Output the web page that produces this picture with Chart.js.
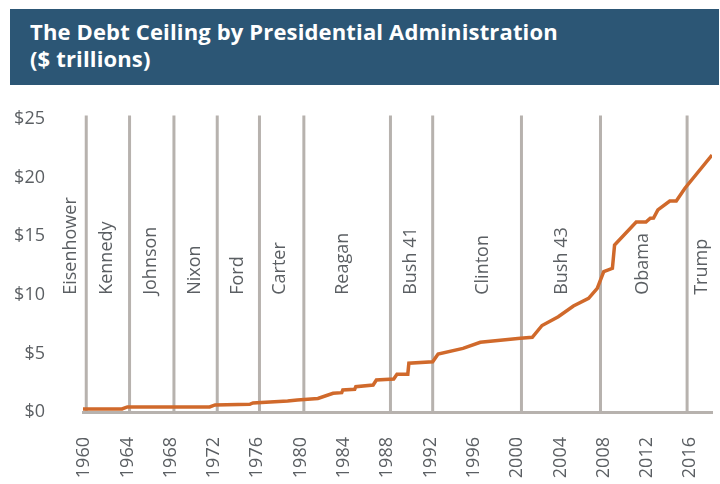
<!DOCTYPE html>
<html>
<head>
<meta charset="utf-8">
<title>Debt Ceiling</title>
<script src="https://cdn.jsdelivr.net/npm/chart.js@4.4.1/dist/chart.umd.min.js"></script>
<style>
  html, body { margin: 0; padding: 0; background: #fff; }
  #wrap { position: relative; width: 720px; height: 484px; overflow: hidden; }
  #titulo {
    position: absolute; left: 10px; top: 9px; width: 709px; height: 76px;
    background: #2c5675; color: #fff; box-sizing: border-box;
    padding: 9px 0 0 20px;
    font-family: "Open Sans", sans-serif; font-weight: bold; font-size: 22px; line-height: 27px;
    letter-spacing: 0.15px;
  }
  #grafico { position: absolute; left: 0; top: 0; }
</style>
</head>
<body>
<div id="wrap">
  <canvas id="grafico" width="720" height="484"></canvas>
  <div id="titulo">The Debt Ceiling by Presidential Administration<br>($ trillions)</div>
</div>
<script>
// Datos (años y techo de deuda en billones de $)
const anios = [1959.9, 1963.5, 1964.0, 1971.6, 1972.1, 1975.3, 1975.6, 1978.8, 1979.7, 1981.6,
               1983.0, 1983.8, 1983.9, 1985.0, 1985.1, 1986.7, 1987.0, 1988.6, 1988.9, 1989.9,
               1990.0, 1992.2, 1992.7, 1995.0, 1996.6, 2000.3, 2001.4, 2002.3, 2003.8, 2005.2,
               2006.6, 2007.4, 2008.0, 2008.8, 2009.0, 2011.0, 2011.9, 2012.3, 2012.6, 2013.0,
               2014.1, 2014.7, 2015.5, 2018.0];
const techo = [0.26, 0.26, 0.43, 0.43, 0.60, 0.66, 0.77, 0.94, 1.03, 1.15,
               1.60, 1.65, 1.88, 1.94, 2.16, 2.30, 2.73, 2.82, 3.22, 3.22,
               4.16, 4.29, 4.95, 5.43, 5.95, 6.29, 6.37, 7.38, 8.13, 9.04,
               9.70, 10.55, 11.97, 12.26, 14.25, 16.21, 16.21, 16.53, 16.55, 17.24,
               18.00, 18.00, 19.09, 21.93];

// Etiquetas del eje x
const aniosEje = [1960, 1964, 1968, 1972, 1976, 1980, 1984, 1988, 1992, 1996, 2000, 2004, 2008, 2012, 2016];

// Presidentes: nombre, posición de la etiqueta y cambios de administración
const presidentes = ['Eisenhower', 'Kennedy', 'Johnson', 'Nixon', 'Ford', 'Carter', 'Reagan',
                     'Bush 41', 'Clinton', 'Bush 43', 'Obama', 'Trump'];
const centroEtiqueta = [1958.8, 1962.1, 1966.2, 1970.2, 1974.2, 1978.1, 1983.9,
                        1990.2, 1996.8, 2004.1, 2011.6, 2017.1];
const cambios = [1960.2, 1964.2, 1968.3, 1972.3, 1976.2, 1980.3, 1988.3, 1992.2, 2000.4, 2007.7, 2015.7];

const grisTexto = '#5b5f63';
const grisLinea = '#b7b2ae';
const naranja = '#d0692b';

// Plugin para las líneas verticales y los nombres de presidentes
const administraciones = {
    id: 'administraciones',
    beforeDatasetsDraw(chart) {
        const { ctx, scales: { x, y } } = chart;
        ctx.save();
        ctx.strokeStyle = grisLinea;
        ctx.lineWidth = 3;
        cambios.forEach(c => {
            const px = x.getPixelForValue(c);
            ctx.beginPath();
            ctx.moveTo(px, y.getPixelForValue(25.3));
            ctx.lineTo(px, y.getPixelForValue(0));
            ctx.stroke();
        });
        ctx.fillStyle = grisTexto;
        ctx.font = '18px "Open Sans", sans-serif';
        ctx.textAlign = 'left';
        ctx.textBaseline = 'middle';
        presidentes.forEach((nombre, i) => {
            ctx.save();
            ctx.translate(x.getPixelForValue(centroEtiqueta[i]), y.getPixelForValue(10));
            ctx.rotate(-Math.PI / 2);
            ctx.fillText(nombre, 0, 0);
            ctx.restore();
        });
        ctx.restore();
    }
};

const ctx = document.getElementById('grafico').getContext('2d');

new Chart(ctx, {
    type: 'line',
    data: {
        datasets: [{
            label: 'Debt Ceiling',
            data: anios.map((a, i) => ({ x: a, y: techo[i] })),
            borderColor: naranja,
            borderWidth: 3.5,
            pointRadius: 0,
            tension: 0,
            fill: false
        }]
    },
    options: {
        responsive: false,
        animation: false,
        layout: { padding: { top: 119, right: 8, left: 0, bottom: 0 } },
        plugins: {
            legend: { display: false },
            tooltip: { enabled: false }
        },
        scales: {
            x: {
                type: 'linear',
                min: 1959.9,
                max: 2018,
                grid: { display: false, drawTicks: false },
                border: { display: true, color: grisLinea, width: 3 },
                afterBuildTicks: s => { s.ticks = aniosEje.map(v => ({ value: v })); },
                afterFit: s => { s.height = 72; s.paddingLeft = 0; s.paddingRight = 0; },
                ticks: {
                    autoSkip: false,
                    minRotation: 90,
                    maxRotation: 90,
                    padding: 25,
                    color: grisTexto,
                    font: { family: '"Open Sans", sans-serif', size: 18 },
                    callback: v => String(v)
                }
            },
            y: {
                min: 0,
                max: 25,
                grid: { display: false, drawTicks: false },
                border: { display: false },
                afterFit: s => { s.width = 83; },
                ticks: {
                    stepSize: 5,
                    padding: 38,
                    color: grisTexto,
                    font: { family: '"Open Sans", sans-serif', size: 18 },
                    callback: v => '$' + v
                }
            }
        }
    },
    plugins: [administraciones]
});
</script>
</body>
</html>
